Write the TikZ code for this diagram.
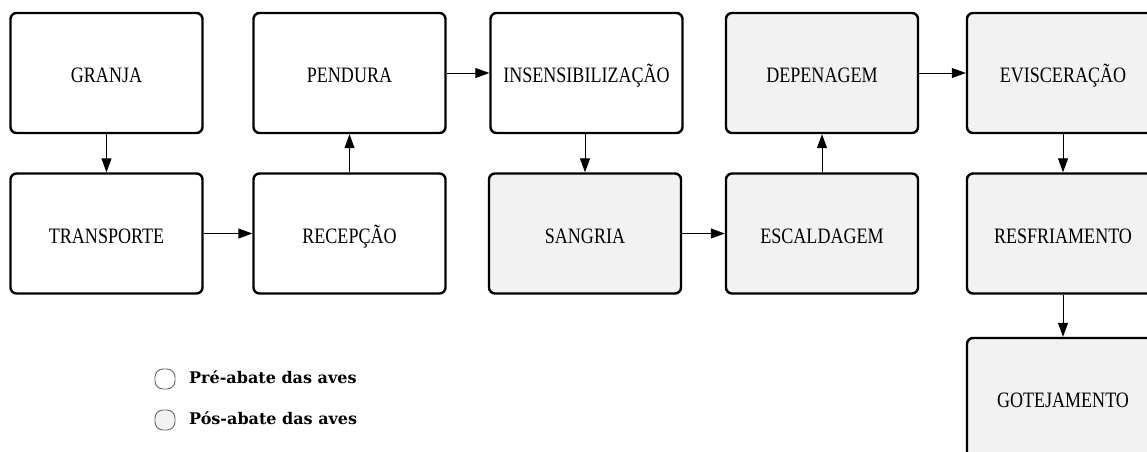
\documentclass[tikz,border=0pt]{standalone}
\usepackage{fontspec}
\setmainfont{Liberation Serif}
\newfontfamily\stagefont[FakeStretch=0.82]{Liberation Serif}
\newfontfamily\keyfont{DejaVu Serif}
\usetikzlibrary{arrows.meta}
\definecolor{postfill}{HTML}{F2F2F2}
\tikzset{
  stage/.style={draw=black, line width=2.4pt, rounded corners=6pt,
    minimum width=192pt, minimum height=120pt, inner sep=0pt,
    text height=19pt, text depth=0pt,
    font=\stagefont\fontsize{22}{24}\selectfont, fill=white},
  poststage/.style={stage, fill=postfill},
  flow/.style={-{Triangle[length=14pt,width=10pt]}, line width=1pt},
  keybox/.style={draw=black!60, line width=0.9pt, rounded corners=8pt,
    minimum width=20pt, minimum height=20pt, inner sep=0pt},
  keytext/.style={anchor=west, font=\keyfont\bfseries\fontsize{16}{19}\selectfont,
    inner sep=0pt, text height=12pt, text depth=0pt}
}
\begin{document}
\begin{tikzpicture}[x=1pt, y=-1pt]
  \useasboundingbox (0,0) rectangle (1147,451);
  \clip (0,0) rectangle (1147,451);
  \fill[white] (0,0) rectangle (1147,451);

  % pre-slaughter stages
  \node[stage] (granja) at (106.5,73) {GRANJA};
  \node[stage] (transp) at (106.5,233.5) {TRANSPORTE};
  \node[stage] (recep) at (349.5,233.5) {RECEPÇÃO};
  \node[stage] (pend) at (349.5,73) {PENDURA};
  \node[stage] (insens) at (586.5,73) {INSENSIBILIZAÇÃO};

  % post-slaughter stages
  \node[poststage] (sang) at (585,233.5) {SANGRIA};
  \node[poststage] (escal) at (822,233.5) {ESCALDAGEM};
  \node[poststage] (depen) at (822,73) {DEPENAGEM};
  \node[poststage] (evisc) at (1063,73) {EVISCERAÇÃO};
  \node[poststage] (resfr) at (1063,233.5) {RESFRIAMENTO};
  \node[poststage] (gotej) at (1063,398) {GOTEJAMENTO};

  % process flow
  \draw[flow] (granja) -- (transp);
  \draw[flow] (transp) -- (recep);
  \draw[flow] (recep) -- (pend);
  \draw[flow] (pend) -- (insens);
  \draw[flow] (insens.south -| sang.north) -- (sang.north);
  \draw[flow] (sang) -- (escal);
  \draw[flow] (escal) -- (depen);
  \draw[flow] (depen) -- (evisc);
  \draw[flow] (evisc) -- (resfr);
  \draw[flow] (resfr) -- (gotej);

  % legend
  \node[keybox, fill=white] (kpre) at (165,379) {};
  \node[keytext] (tpre) at (189,377) {Pré-abate das aves};
  \node[keybox, fill=postfill] (kpos) at (165,420) {};
  \node[keytext] (tpos) at (189,418) {Pós-abate das aves};
\end{tikzpicture}
\end{document}
